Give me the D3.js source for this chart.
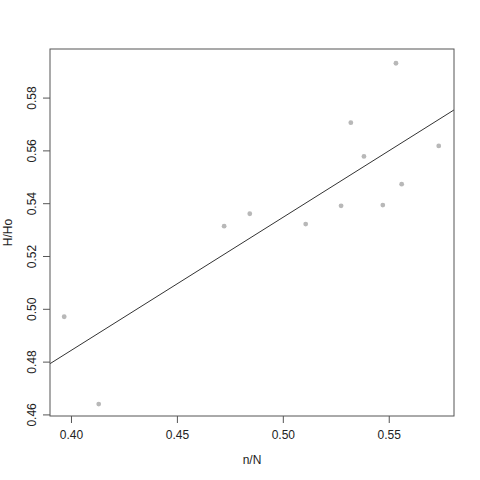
<!DOCTYPE html>
<html>
<head>
<meta charset="utf-8">
<script src="https://cdn.jsdelivr.net/npm/d3@7"></script>
<style>
  body { margin: 0; background: #fff; }
  text { font-family: "Liberation Sans", Arial, sans-serif; }
</style>
</head>
<body>
<div id="chart"></div>
<script>
const width = 480;
const height = 480;

// ratio n/N and H/Ho
const nN = [0.3968, 0.4131, 0.4723, 0.4844, 0.5108, 0.5275, 0.5321, 0.5383, 0.5472, 0.5534, 0.5561, 0.5736];
const hHo = [0.4970, 0.4639, 0.5313, 0.5360, 0.5321, 0.5390, 0.5705, 0.5577, 0.5393, 0.5930, 0.5472, 0.5617];
const xTicks = [0.40, 0.45, 0.50, 0.55];
const yTicks = [0.46, 0.48, 0.50, 0.52, 0.54, 0.56, 0.58];
// fitted line: H/Ho = a + b * n/N
const fit = { a: 0.2826, b: 0.504 };

const box = { left: 50, right: 454, top: 49, bottom: 416 };

const svg = d3
    .select('#chart')
    .append('svg')
    .attr('width', width)
    .attr('height', height);

const xScale = d3.scaleLinear().domain([0.3901, 0.5808]).range([box.left, box.right]);
const yScale = d3.scaleLinear().domain([0.4594, 0.5984]).range([box.bottom, box.top]);

// x axis
const xAxis = svg.append('g')
    .attr('transform', `translate(0, ${box.bottom})`)
    .call(d3.axisBottom(xScale).tickValues(xTicks).tickFormat(d3.format('.2f')).tickSize(7).tickPadding(7));
xAxis.select('.domain').remove();
xAxis.selectAll('line').attr('stroke', '#555');
xAxis.selectAll('text').attr('font-size', 12).attr('fill', '#222')
    .attr('font-family', '"Liberation Sans", Arial, sans-serif');

// y axis, labels turned like R's
const yAxis = svg.append('g')
    .attr('transform', `translate(${box.left}, 0)`)
    .call(d3.axisLeft(yScale).tickValues(yTicks).tickFormat(d3.format('.2f')).tickSize(7));
yAxis.select('.domain').remove();
yAxis.selectAll('line').attr('stroke', '#555');
yAxis.selectAll('text')
    .attr('font-size', 12).attr('fill', '#222')
    .attr('font-family', '"Liberation Sans", Arial, sans-serif')
    .attr('x', null).attr('dy', null)
    .attr('text-anchor', 'middle')
    .attr('transform', 'translate(-18, 0) rotate(-90)')
    .attr('dy', '0.35em');

// regression line, clipped to the box
svg.append('clipPath').attr('id', 'clip')
    .append('rect')
    .attr('x', box.left).attr('y', box.top)
    .attr('width', box.right - box.left).attr('height', box.bottom - box.top);

const x0 = xScale.domain()[0], x1 = xScale.domain()[1];
svg.append('line')
    .attr('clip-path', 'url(#clip)')
    .attr('x1', xScale(x0)).attr('y1', yScale(fit.a + fit.b * x0))
    .attr('x2', xScale(x1)).attr('y2', yScale(fit.a + fit.b * x1))
    .attr('stroke', '#333')
    .attr('stroke-width', 1);

// points
svg.append('g')
    .selectAll('circle')
    .data(nN.map((d, i) => [d, hHo[i]]))
    .join('circle')
    .attr('cx', d => xScale(d[0]))
    .attr('cy', d => yScale(d[1]))
    .attr('r', 2.4)
    .attr('fill', '#b8b8b8');

// frame
svg.append('rect')
    .attr('x', box.left).attr('y', box.top)
    .attr('width', box.right - box.left).attr('height', box.bottom - box.top)
    .attr('fill', 'none')
    .attr('stroke', '#555')
    .attr('stroke-width', 1);

// axis titles
svg.append('text')
    .attr('x', (box.left + box.right) / 2)
    .attr('y', 464)
    .attr('text-anchor', 'middle')
    .attr('font-size', 12)
    .attr('fill', '#222')
    .text('n/N');

svg.append('text')
    .attr('transform', `translate(12, ${(box.top + box.bottom) / 2}) rotate(-90)`)
    .attr('text-anchor', 'middle')
    .attr('font-size', 12)
    .attr('fill', '#222')
    .text('H/Ho');
</script>
</body>
</html>
